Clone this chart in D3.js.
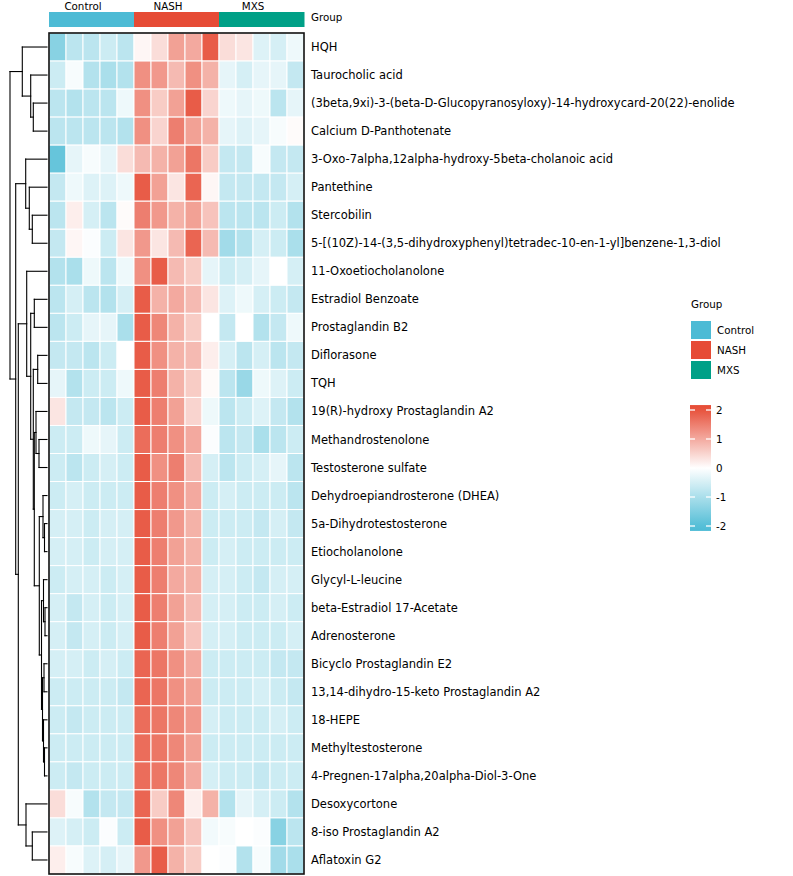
<!DOCTYPE html>
<html><head><meta charset="utf-8">
<script src="https://cdn.jsdelivr.net/npm/d3@7"></script>
<style>body{margin:0;background:#fff}svg{display:block}text{font-family:"DejaVu Sans",Verdana,sans-serif}</style>
</head><body><svg id="c" width="793" height="876"></svg>
<script>
// ---------------- data ----------------
const groups = ["Control", "NASH", "MXS"];
const groupColors = ["#4DBBD5", "#E64B35", "#00A087"];
const samples = ["C1","C2","C3","C4","C5","N1","N2","N3","N4","N5","M1","M2","M3","M4","M5"];
const sampleGroup = ["Control","Control","Control","Control","Control","NASH","NASH","NASH","NASH","NASH","MXS","MXS","MXS","MXS","MXS"];
const metabolites = [
 "HQH","Taurocholic acid","(3beta,9xi)-3-(beta-D-Glucopyranosyloxy)-14-hydroxycard-20(22)-enolide",
 "Calcium D-Panthotenate","3-Oxo-7alpha,12alpha-hydroxy-5beta-cholanoic acid","Pantethine","Stercobilin",
 "5-[(10Z)-14-(3,5-dihydroxyphenyl)tetradec-10-en-1-yl]benzene-1,3-diol","11-Oxoetiocholanolone",
 "Estradiol Benzoate","Prostaglandin B2","Diflorasone","TQH","19(R)-hydroxy Prostaglandin A2",
 "Methandrostenolone","Testosterone sulfate","Dehydroepiandrosterone (DHEA)","5a-Dihydrotestosterone",
 "Etiocholanolone","Glycyl-L-leucine","beta-Estradiol 17-Acetate","Adrenosterone","Bicyclo Prostaglandin E2",
 "13,14-dihydro-15-keto Prostaglandin A2","18-HEPE","Methyltestosterone","4-Pregnen-17alpha,20alpha-Diol-3-One",
 "Desoxycortone","8-iso Prostaglandin A2","Aflatoxin G2"];
// z-scores, one row per metabolite, columns follow `samples`
const zscores = [
 [-1.4,-0.8,-0.8,-0.6,-0.8,  0.1,0.4,1.1,1.0,1.9,   0.4,0.3,-0.4,-0.5,-0.2],
 [-0.6,-0.1,-0.9,-1.0,-0.9,  1.3,1.2,0.8,1.3,0.9,   -0.3,-0.5,-0.3,-0.3,-0.7],
 [-0.8,-0.9,-0.8,-0.8,-0.2,  1.3,0.6,1.1,1.9,0.5,   -0.2,-0.3,-0.2,-0.8,-0.3],
 [-0.8,-0.8,-0.8,-0.8,-0.9,  1.3,0.5,1.5,1.1,0.9,   -0.3,-0.4,-0.3,-0.1,0.05],
 [-1.8,-0.3,-0.1,-0.3,0.4,   0.8,0.9,1.1,1.6,0.6,   -0.7,-0.7,-0.1,-0.7,-0.7],
 [-0.7,-0.2,-0.4,-0.4,-0.2,  1.9,1.1,0.3,1.8,0.1,   -0.7,-0.7,-0.7,-0.7,-0.5],
 [-0.8,0.2,-0.5,-0.8,0.05,   1.5,1.2,0.9,1.1,0.7,   -0.8,-0.8,-0.8,-0.6,-0.9],
 [-0.7,0.1,-0.05,-0.6,0.3,   1.2,0.3,0.8,1.8,0.8,   -1.1,-0.9,-0.5,-0.6,-1.0],
 [-0.9,-1.0,-0.2,-0.8,-0.2,  1.3,1.9,0.8,0.6,-0.3,  -0.6,-0.5,-0.3,0.0,-0.5],
 [-0.8,-0.5,-0.8,-0.9,-0.5,  1.9,0.9,1.0,0.8,0.3,   -0.4,-0.2,-0.5,-0.6,-0.7],
 [-0.8,-0.6,-0.3,-0.3,-1.0,  1.9,1.4,0.9,0.6,0.0,   -0.7,0.0,-0.9,-0.7,-0.2],
 [-0.7,-0.7,-0.8,-0.6,0.0,   1.9,1.3,0.9,0.8,0.2,   -0.5,-0.8,-0.5,-0.8,-0.7],
 [-0.3,-0.9,-0.6,-0.6,-0.2,  1.9,1.5,0.9,0.6,0.05,  -0.8,-1.2,-0.2,-0.4,-0.6],
 [0.3,-0.7,-0.7,-0.8,-0.6,   1.9,1.5,1.1,0.5,-0.2,  -0.8,-0.6,-0.4,-0.7,-0.9],
 [-0.6,-0.6,-0.2,-0.3,-0.6,  1.7,1.5,1.3,1.0,-0.05, -0.8,-0.7,-1.0,-0.8,-0.6],
 [-0.6,-0.8,-0.6,-0.5,-0.6,  1.9,1.3,1.5,0.8,-0.5,  -0.8,-0.6,-0.5,-0.3,-0.8],
 [-0.6,-0.5,-0.6,-0.6,-0.6,  1.9,1.5,1.3,1.0,-0.6,  -0.5,-0.6,-0.6,-0.6,-0.8],
 [-0.5,-0.5,-0.6,-0.5,-0.5,  1.9,1.5,1.2,0.9,-0.6,  -0.6,-0.6,-0.7,-0.5,-0.7],
 [-0.5,-0.5,-0.6,-0.5,-0.5,  1.9,1.5,1.1,0.9,-0.6,  -0.5,-0.6,-0.6,-0.6,-0.6],
 [-0.6,-0.5,-0.5,-0.6,-0.5,  1.9,1.5,1.0,0.9,-0.5,  -0.5,-0.6,-0.7,-0.5,-0.5],
 [-0.5,-0.7,-0.5,-0.6,-0.5,  1.9,1.5,1.1,0.8,-0.5,  -0.5,-0.6,-0.6,-0.5,-0.6],
 [-0.5,-0.7,-0.5,-0.6,-0.5,  1.9,1.5,1.1,0.7,-0.5,  -0.5,-0.6,-0.6,-0.6,-0.5],
 [-0.5,-0.5,-0.6,-0.5,-0.6,  1.8,1.6,1.3,1.0,-0.6,  -0.6,-0.6,-0.6,-0.7,-0.7],
 [-0.6,-0.6,-0.6,-0.6,-0.7,  1.8,1.6,1.3,1.1,-0.6,  -0.6,-0.6,-0.5,-0.6,-0.7],
 [-0.6,-0.7,-0.6,-0.6,-0.6,  1.7,1.6,1.4,1.2,-0.5,  -0.6,-0.6,-0.6,-0.5,-0.6],
 [-0.6,-0.6,-0.6,-0.6,-0.6,  1.7,1.6,1.4,1.1,-0.6,  -0.6,-0.6,-0.6,-0.6,-0.6],
 [-0.6,-0.7,-0.6,-0.6,-0.6,  1.7,1.6,1.4,1.0,-0.5,  -0.6,-0.6,-0.7,-0.6,-0.6],
 [0.4,-0.1,-0.9,-0.7,-0.7,   1.8,0.6,1.4,0.2,0.9,   -0.9,-0.3,-0.5,-0.6,-0.9],
 [-0.4,-0.5,-0.6,-0.05,-0.6, 1.9,1.3,1.1,0.7,-0.15, -0.1,0.0,-0.05,-1.4,-0.8],
 [0.2,-0.1,-0.4,-0.5,-0.3,   1.2,1.9,0.9,0.6,0.0,   -0.05,-0.9,-0.1,-1.1,-1.0]
];
// row dendrogram: merge heights (h) and leaves (row index)
const L = i => ({leaf: i});
const rowTree = {h: 37, c: [
  {h: 24.7, c: [L(0), {h: 16.3, c: [L(1), {h: 13.7, c: [L(2), L(3)]}]}]},
  {h: 31.3, c: [
    {h: 21.3, c: [L(4), {h: 17.7, c: [L(5), {h: 14.7, c: [L(6), L(7)]}]}]},
    {h: 28.7, c: [
      {h: 20.3, c: [L(8), {h: 16.3, c: [
        {h: 12.7, c: [L(9), L(10)]},
        {h: 13.7, c: [
          {h: 9.3, c: [L(11), L(12)]},
          {h: 12.7, c: [
            {h: 11, c: [L(13), {h: 8, c: [L(14), L(15)]}]},
            {h: 7.7, c: [
              {h: 4, c: [L(16), {h: 2.5, c: [L(17), L(18)]}]},
              {h: 5.5, c: [
                {h: 3.5, c: [L(19), {h: 2, c: [L(20), L(21)]}]},
                {h: 4.5, c: [{h: 3, c: [L(22), L(23)]}, {h: 3.5, c: [L(24), {h: 2.5, c: [L(25), L(26)]}]}]}
              ]}
            ]}
          ]}
        ]}
      ]}]},
      {h: 21, c: [L(27), {h: 14.7, c: [L(28), L(29)]}]}
    ]}
  ]}
]};
const legendTicks = [2, 1, 0, -1, -2];

// ---------------- layout ----------------
const svg = d3.select("#c");
const x = d3.scaleBand().domain(samples).range([49, 304]);
const y = d3.scaleBand().domain(metabolites).range([33, 874]);
const color = d3.scaleLinear().domain([-2.1, 0, 2.1]).range(["#4DBBD5", "#FFFFFF", "#E64B35"]).clamp(true);
const gColor = d3.scaleOrdinal().domain(groups).range(groupColors);
const FS = 10.3, FSR = 11.5;

// group header labels
groups.forEach(g => {
  const cols = samples.filter((s, i) => sampleGroup[i] === g);
  svg.append("text").attr("x", x(cols[0]) + 2 * x.bandwidth()).attr("y", 9.5)
    .attr("text-anchor", "middle").attr("font-size", FS).attr("fill", "#000").text(g);
});
// annotation bar
svg.append("g").selectAll("rect").data(samples).join("rect")
  .attr("x", d => x(d)).attr("y", 12).attr("width", x.bandwidth() + 0.5).attr("height", 15)
  .attr("fill", (d, i) => gColor(sampleGroup[i]));
svg.append("text").attr("x", 311).attr("y", 17.5).attr("dy", "0.35em").attr("font-size", FS).text("Group");

// heatmap cells
const cells = [];
zscores.forEach((row, r) => row.forEach((v, c) => cells.push({r, c, v})));
svg.append("g").selectAll("rect").data(cells).join("rect")
  .attr("x", d => x(samples[d.c])).attr("y", d => y(metabolites[d.r]))
  .attr("width", x.bandwidth()).attr("height", y.bandwidth())
  .attr("fill", d => color(d.v)).attr("stroke", "#fff").attr("stroke-width", 1);
svg.append("rect").attr("x", 49).attr("y", 33).attr("width", 255).attr("height", 841)
  .attr("fill", "none").attr("stroke", "#111").attr("stroke-width", 1.6);

// row labels
svg.append("g").selectAll("text").data(metabolites).join("text")
  .attr("x", 311).attr("y", d => y(d) + y.bandwidth() / 2).attr("dy", "0.35em")
  .attr("font-size", FSR).text(d => d);

// dendrogram
const root = d3.hierarchy(rowTree, d => d.c);
const xd = d3.scaleLinear().domain([0, 37]).range([47, 10]);
root.eachAfter(n => {
  if (!n.children) { n.py = y(metabolites[n.data.leaf]) + y.bandwidth() / 2; n.px = xd(0); }
  else { n.py = (n.children[0].py + n.children[1].py) / 2; n.px = xd(n.data.h); }
});
const segs = [];
root.each(n => {
  if (n.children) {
    segs.push([n.px, n.children[0].py, n.px, n.children[1].py]);
    n.children.forEach(ch => segs.push([n.px, ch.py, ch.px, ch.py]));
  }
});
svg.append("g").selectAll("line").data(segs).join("line")
  .attr("x1", d => d[0]).attr("y1", d => d[1]).attr("x2", d => d[2]).attr("y2", d => d[3])
  .attr("stroke", "#000").attr("stroke-width", 1.1).attr("stroke-linecap", "square");

// legend: groups
const lg = svg.append("g");
lg.append("text").attr("x", 691).attr("y", 304).attr("dy", "0.35em").attr("font-size", FS).text("Group");
groups.forEach((g, i) => {
  lg.append("rect").attr("x", 691).attr("y", 321 + i * 20).attr("width", 20).attr("height", 18).attr("fill", gColor(g));
  lg.append("text").attr("x", 717).attr("y", 330 + i * 20).attr("dy", "0.35em").attr("font-size", FS).text(g);
});
// legend: colour bar
const ly = d3.scaleLinear().domain([-2, 2]).range([526, 410]);
const barTop = ly(2.17), barBot = ly(-2.17);
const defs = svg.append("defs");
const grad = defs.append("linearGradient").attr("id", "cb").attr("x1", 0).attr("y1", 0).attr("x2", 0).attr("y2", 1);
d3.range(0, 1.0001, 0.05).forEach(t => {
  const v = 2.17 - t * 4.34;
  grad.append("stop").attr("offset", t).attr("stop-color", color(v));
});
lg.append("rect").attr("x", 690).attr("y", barTop).attr("width", 21).attr("height", barBot - barTop).attr("fill", "url(#cb)");
legendTicks.forEach(t => {
  lg.append("line").attr("x1", 690).attr("x2", 695).attr("y1", ly(t)).attr("y2", ly(t)).attr("stroke", "#fff").attr("stroke-width", 1.3);
  lg.append("line").attr("x1", 706).attr("x2", 711).attr("y1", ly(t)).attr("y2", ly(t)).attr("stroke", "#fff").attr("stroke-width", 1.3);
  lg.append("text").attr("x", 716).attr("y", ly(t)).attr("dy", "0.35em").attr("font-size", FS).text(t);
});
</script></body></html>
